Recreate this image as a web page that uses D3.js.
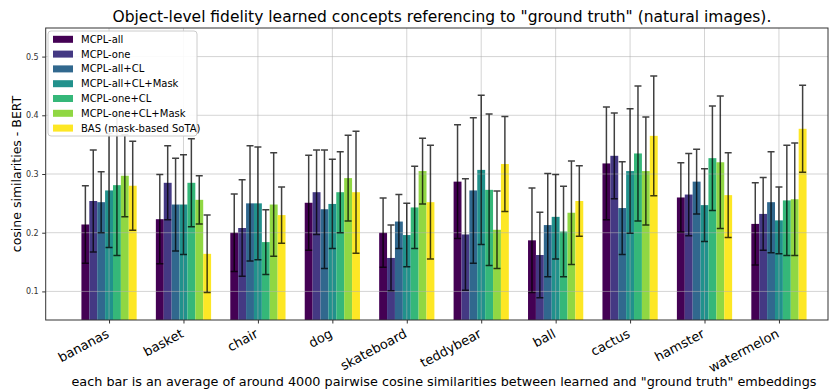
<!DOCTYPE html>
<html>
<head>
<meta charset="utf-8">
<script src="https://cdn.jsdelivr.net/npm/d3@7/dist/d3.min.js"></script>
<style>
  body { margin: 0; background: #fff; }
  svg { font-family: "DejaVu Sans", sans-serif; }
</style>
</head>
<body>
<div id="chart"></div>
<script>
const categories = ['bananas', 'basket', 'chair', 'dog', 'skateboard', 'teddybear', 'ball', 'cactus', 'hamster', 'watermelon'];
const seriesNames = ['MCPL-all', 'MCPL-one', 'MCPL-all+CL', 'MCPL-all+CL+Mask', 'MCPL-one+CL', 'MCPL-one+CL+Mask', 'BAS (mask-based SoTA)'];

// mean cosine similarity, one array per series (same order as categories)
const mcplAll        = [0.214, 0.223, 0.200, 0.251, 0.200, 0.287, 0.187, 0.318, 0.260, 0.215];
const mcplOne        = [0.254, 0.285, 0.208, 0.269, 0.157, 0.197, 0.162, 0.331, 0.265, 0.232];
const mcplAllCL      = [0.252, 0.248, 0.250, 0.240, 0.219, 0.272, 0.213, 0.242, 0.287, 0.252];
const mcplAllCLMask  = [0.272, 0.248, 0.250, 0.249, 0.196, 0.307, 0.227, 0.305, 0.247, 0.221];
const mcplOneCL      = [0.281, 0.285, 0.184, 0.269, 0.243, 0.273, 0.202, 0.335, 0.327, 0.255];
const mcplOneCLMask  = [0.297, 0.256, 0.248, 0.293, 0.305, 0.205, 0.234, 0.305, 0.320, 0.257];
const bas            = [0.280, 0.164, 0.230, 0.269, 0.252, 0.317, 0.254, 0.365, 0.264, 0.377];

// standard deviations (error bars)
const errAll         = [0.066, 0.076, 0.066, 0.081, 0.059, 0.097, 0.089, 0.096, 0.059, 0.070];
const errOne         = [0.087, 0.063, 0.082, 0.072, 0.056, 0.095, 0.073, 0.073, 0.070, 0.062];
const errAllCL       = [0.052, 0.079, 0.098, 0.101, 0.046, 0.124, 0.088, 0.079, 0.055, 0.086];
const errAllCLMask   = [0.097, 0.085, 0.096, 0.076, 0.054, 0.127, 0.072, 0.106, 0.062, 0.057];
const errOneCL       = [0.120, 0.075, 0.055, 0.069, 0.070, 0.129, 0.077, 0.115, 0.089, 0.094];
const errOneCLMask   = [0.070, 0.041, 0.088, 0.073, 0.056, 0.066, 0.088, 0.092, 0.113, 0.096];
const errBas         = [0.076, 0.066, 0.048, 0.104, 0.097, 0.081, 0.060, 0.102, 0.072, 0.074];

const yTicks = [0.1, 0.2, 0.3, 0.4, 0.5];

const means = [mcplAll, mcplOne, mcplAllCL, mcplAllCLMask, mcplOneCL, mcplOneCLMask, bas];
const errs = [errAll, errOne, errAllCL, errAllCLMask, errOneCL, errOneCLMask, errBas];

const W = 830, H = 390;
const m = { left: 45.7, right: 828, top: 28, bottom: 320 };
const barW = 0.106;
const nS = seriesNames.length;

const color = d3.scaleOrdinal()
  .domain(seriesNames)
  .range(seriesNames.map((d, i) => d3.interpolateViridis(i / (nS - 1))));

const x = d3.scaleLinear().domain([-0.851, 9.659]).range([m.left, m.right]);
const y = d3.scaleLinear().domain([0.0513, 0.5487]).range([m.bottom, m.top]);

const svg = d3.select('#chart')
  .append('svg')
  .attr('width', W)
  .attr('height', H);

const rows = [];
means.forEach((arr, s) => {
  arr.forEach((v, c) => {
    rows.push({ s: s, c: c, v: v, e: errs[s][c] });
  });
});
const xOf = d => x(d.c + (d.s - (nS - 1) / 2) * barW);
const bw = x(barW) - x(0);

svg.append('defs').append('clipPath').attr('id', 'plot')
  .append('rect').attr('x', m.left).attr('y', m.top)
  .attr('width', m.right - m.left).attr('height', m.bottom - m.top);

const plot = svg.append('g').attr('clip-path', 'url(#plot)');

// bars
plot.selectAll('rect.bar')
  .data(rows)
  .enter()
  .append('rect')
  .attr('class', 'bar')
  .attr('x', d => xOf(d) - bw / 2)
  .attr('width', bw)
  .attr('y', d => y(d.v))
  .attr('height', d => m.bottom - y(d.v))
  .attr('fill', d => color(seriesNames[d.s]));

// grid (drawn above the bars, like matplotlib)
const grid = plot.append('g').attr('stroke', '#b0b0b0').attr('stroke-opacity', 0.55).attr('stroke-width', 1);
grid.selectAll('line.h')
  .data(yTicks)
  .enter()
  .append('line')
  .attr('x1', m.left).attr('x2', m.right)
  .attr('y1', d => y(d)).attr('y2', d => y(d));
grid.selectAll('line.v')
  .data(categories)
  .enter()
  .append('line')
  .attr('y1', m.top).attr('y2', m.bottom)
  .attr('x1', (d, i) => x(i)).attr('x2', (d, i) => x(i));

// error bars
const eb = plot.append('g')
  .attr('stroke', '#000')
  .attr('stroke-opacity', 0.75)
  .attr('stroke-width', 1.5);
const cap = 3.5;
eb.selectAll('path')
  .data(rows)
  .enter()
  .append('path')
  .attr('fill', 'none')
  .attr('d', d => {
    const cx = xOf(d), y0 = y(d.v - d.e), y1 = y(d.v + d.e);
    return `M${cx},${y0}V${y1}M${cx - cap},${y1}H${cx + cap}M${cx - cap},${y0}H${cx + cap}`;
  });

// spines
svg.append('rect')
  .attr('x', m.left).attr('y', m.top)
  .attr('width', m.right - m.left).attr('height', m.bottom - m.top)
  .attr('fill', 'none')
  .attr('stroke', '#333')
  .attr('stroke-width', 1);

// y axis
const yAxis = svg.append('g')
  .attr('transform', `translate(${m.left},0)`)
  .call(d3.axisLeft(y).tickValues(yTicks).tickFormat(d3.format('.1f')).tickSize(3.5).tickPadding(3.5));
yAxis.select('.domain').remove();
yAxis.selectAll('text').attr('font-size', 8).attr('fill', '#333').attr('font-family', '"DejaVu Sans", sans-serif');
yAxis.selectAll('line').attr('stroke', '#333');

// x axis
const xAxis = svg.append('g')
  .attr('transform', `translate(0,${m.bottom})`)
  .call(d3.axisBottom(x).tickValues(d3.range(categories.length)).tickFormat(i => categories[i]).tickSize(3.5));
xAxis.select('.domain').remove();
xAxis.selectAll('line').attr('stroke', '#333');
xAxis.selectAll('text')
  .attr('font-size', 13)
  .attr('font-family', '"DejaVu Sans", sans-serif')
  .attr('fill', '#000')
  .attr('text-anchor', 'end')
  .attr('dominant-baseline', 'hanging')
  .attr('x', -4)
  .attr('y', 8)
  .attr('dy', null)
  .attr('transform', 'rotate(-28,-4,8)');

// title & labels
svg.append('text')
  .text('Object-level fidelity learned concepts referencing to "ground truth" (natural images).')
  .attr('x', 112.5)
  .attr('y', 21.7)
  .attr('text-anchor', 'start')
  .attr('font-size', 15.5);

svg.append('text')
  .text('cosine similarities - BERT')
  .attr('transform', `translate(21,${(m.top + m.bottom) / 2}) rotate(-90)`)
  .attr('text-anchor', 'middle')
  .attr('font-size', 12.5);

svg.append('text')
  .text('each bar is an average of around 4000 pairwise cosine similarities between learned and "ground truth" embeddings')
  .attr('x', 444)
  .attr('y', 386)
  .attr('text-anchor', 'middle')
  .attr('font-size', 12.8);

// legend
const lg = svg.append('g').attr('transform', 'translate(48,31)');
lg.append('rect')
  .attr('width', 149).attr('height', 105)
  .attr('rx', 3)
  .attr('fill', '#fff').attr('fill-opacity', 0.9)
  .attr('stroke', '#ccc');
const item = lg.selectAll('g.item')
  .data(seriesNames)
  .enter()
  .append('g')
  .attr('class', 'item')
  .attr('transform', (d, i) => `translate(5,${8.3 + i * 14.8})`);
item.append('rect')
  .attr('width', 20).attr('height', 7).attr('y', -3.5)
  .attr('fill', d => color(d));
item.append('text')
  .text(d => d)
  .attr('x', 28)
  .attr('y', 0)
  .attr('dy', '0.35em')
  .attr('font-size', 10);
</script>
</body>
</html>
